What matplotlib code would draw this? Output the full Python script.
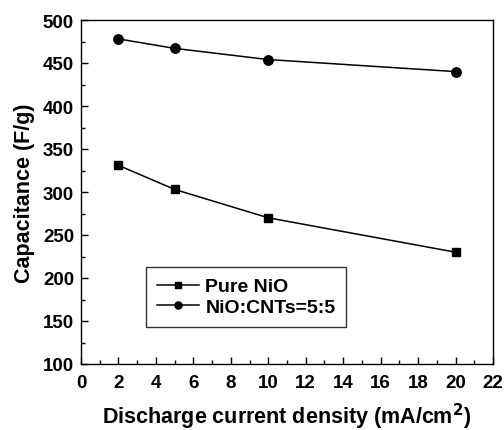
import matplotlib
matplotlib.use("Agg")
from matplotlib import pyplot as plt
from matplotlib.ticker import MultipleLocator

current_density = [2, 5, 10, 20]
pure_nio = [331, 303, 270, 230]
nio_cnts = [478, 467, 454, 440]
series_labels = ["Pure NiO", "NiO:CNTs=5:5"]

plt.rcParams["font.family"] = ["Liberation Sans", "DejaVu Sans"]
plt.rcParams["font.weight"] = "bold"

fig = plt.figure(figsize=(5.04, 4.31), dpi=100)
ax = fig.add_axes([81 / 504, 1 - 365 / 431, (493 - 81) / 504, (365 - 21) / 431])

ax.plot(current_density, pure_nio, "-s", color="black", lw=1.1, ms=6.2, label=series_labels[0])
ax.plot(current_density, nio_cnts, "-o", color="black", lw=1.1, ms=6.8, label=series_labels[1])

ax.set_xlim(0, 22)
ax.set_ylim(100, 500)
ax.xaxis.set_major_locator(MultipleLocator(2))
ax.xaxis.set_minor_locator(MultipleLocator(1))
ax.yaxis.set_major_locator(MultipleLocator(50))
ax.yaxis.set_minor_locator(MultipleLocator(25))
ax.tick_params(which="both", direction="in", top=False, right=False, labelsize=13.5, width=1)
ax.tick_params(which="major", length=5)
ax.tick_params(which="minor", length=3)
ax.tick_params(axis="x", which="major", pad=7.5)
ax.tick_params(axis="y", which="major", pad=5)
for lab in ax.get_xticklabels() + ax.get_yticklabels():
    lab.set_fontweight("bold")
for s in ax.spines.values():
    s.set_linewidth(1)

ax.set_xlabel("Discharge current density (mA/cm$^\\mathbf{2}$)", fontsize=15.5, fontweight="bold", labelpad=7)
ax.set_ylabel("Capacitance (F/g)", fontsize=15.5, fontweight="bold", labelpad=6)

leg = ax.legend(loc="upper left", bbox_to_anchor=(65 / 412, 1 - 247 / 344),
                frameon=True, fancybox=False, edgecolor="black", handlelength=2.2,
                handletextpad=0.3, borderpad=0.55, labelspacing=0.15, borderaxespad=0,
                markerscale=0.75, prop={"weight": "bold", "size": 14})
leg.get_frame().set_linewidth(1)

fig.savefig("out.png", dpi=100)
